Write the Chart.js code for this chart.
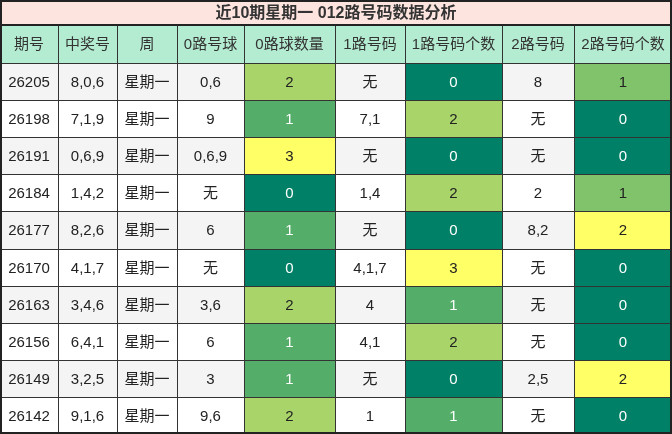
<!DOCTYPE html><html><head><meta charset="utf-8">
<script src="https://cdn.jsdelivr.net/npm/chart.js@4"></script>
<style>html,body{margin:0;padding:0;background:#fff}#w{width:672px;height:434px}</style></head><body>
<div id="w"><canvas id="c"></canvas></div>
<script>
const title='近10期星期一 012路号码数据分析';
const headers=['期号','中奖号','周','0路号球','0路球数量','1路号码','1路号码个数','2路号码','2路号码个数'];
const issues=['26205','26198','26191','26184','26177','26170','26163','26156','26149','26142'];
const draws=['8,0,6','7,1,9','0,6,9','1,4,2','8,2,6','4,1,7','3,4,6','6,4,1','3,2,5','9,1,6'];
const weekday=['星期一','星期一','星期一','星期一','星期一','星期一','星期一','星期一','星期一','星期一'];
const road0=['0,6','9','0,6,9','无','6','无','3,6','6','3','9,6'];
const count0=[2,1,3,0,1,0,2,1,1,2];
const road1=['无','7,1','无','1,4','无','4,1,7','4','4,1','无','1'];
const count1=[0,2,0,2,0,3,1,2,0,1];
const road2=['8','无','无','2','8,2','无','无','无','2,5','无'];
const count2=[1,0,0,1,2,0,0,0,2,0];

const colX=[0,58,117,177,244,335,405,502,574,672];
const rowY=[0,25,63];for(let i=1;i<=10;i++)rowY.push(Math.round(63+i*37.1));
const pal={c0:{0:['#008066','#fff'],1:['#55ad6a','#fff'],2:['#a9d46a','#222'],3:['#ffff66','#222']},
 c2:{0:['#008066','#fff'],1:['#80c36a','#222'],2:['#ffff66','#222']}};
const FONT='"Liberation Sans","Noto Sans CJK SC",sans-serif';
const tablePlugin={id:'tbl',afterDraw(ch){
 const ctx=ch.ctx,xs=ch.scales.x,ys=ch.scales.y;
 const X=v=>xs.getPixelForValue(v),Y=v=>ys.getPixelForValue(v);
 const rect=(x0,y0,x1,y1,c)=>{ctx.fillStyle=c;ctx.fillRect(X(x0),Y(y0),X(x1)-X(x0),Y(y1)-Y(y0));};
 const text=(t,x0,y0,x1,y1,c,f)=>{ctx.fillStyle=c;ctx.font=f;ctx.textAlign='center';ctx.textBaseline='middle';ctx.fillText(t,(X(x0)+X(x1))/2,(Y(y0)+Y(y1))/2+1);};
 ctx.save();
 rect(0,0,672,25,'#fde4df');text(title,0,0,672,25,'#333','bold 16px '+FONT);
 headers.forEach((h,j)=>{rect(colX[j],25,colX[j+1],63,'#b3ecd0');text(h,colX[j],25,colX[j+1],63,'#333','15px '+FONT);});
 const cols=[issues,draws,weekday,road0,count0,road1,count1,road2,count2];
 for(let i=0;i<10;i++){const y0=rowY[i+2],y1=rowY[i+3];
  rect(0,y0,672,y1,i%2===0?'#f4f4f4':'#ffffff');
  cols.forEach((arr,j)=>{let v=arr[i],bg=null,fg='#222';
   if(j===4||j===6){[bg,fg]=pal.c0[v];}else if(j===8){[bg,fg]=pal.c2[v];}
   if(bg)rect(colX[j],y0,colX[j+1],y1,bg);
   text(String(v),colX[j],y0,colX[j+1],y1,fg,'15px '+FONT);});}
 ctx.strokeStyle='#333';ctx.lineWidth=1;ctx.beginPath();
 for(let k=2;k<rowY.length-1;k++){ctx.moveTo(X(0),Y(rowY[k])+0.5);ctx.lineTo(X(672),Y(rowY[k])+0.5);}
 for(let j=1;j<colX.length-1;j++){ctx.moveTo(X(colX[j])+0.5,Y(25));ctx.lineTo(X(colX[j])+0.5,Y(434));}
 ctx.stroke();
 ctx.lineWidth=2;ctx.strokeStyle='#222';ctx.beginPath();ctx.moveTo(X(0),Y(25));ctx.lineTo(X(672),Y(25));ctx.stroke();
 ctx.strokeRect(X(0)+1,Y(0)+1,X(672)-X(0)-2,Y(434)-Y(0)-2);
 ctx.restore();}};
new Chart(document.getElementById('c'),{type:'scatter',data:{datasets:[{data:[]}]},
 options:{responsive:true,maintainAspectRatio:false,animation:false,layout:{padding:0},
  plugins:{legend:{display:false},tooltip:{enabled:false}},
  scales:{x:{type:'linear',min:0,max:672,display:false},y:{type:'linear',min:0,max:434,reverse:true,display:false}}},
 plugins:[tablePlugin]});
</script></body></html>
